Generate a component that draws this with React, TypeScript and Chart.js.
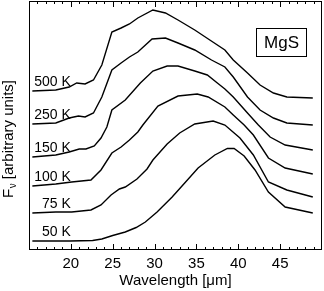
import React, { useEffect, useRef } from "react";
import { Chart, registerables } from "chart.js";

Chart.register(...registerables);

// Wavelength (µm) and flux (arbitrary units)
const wl500 = [15.4, 18.2, 19.8, 20.7, 21.7, 22.7, 23.7, 24.9, 26.0, 27.0, 28.0, 29.8, 31.3, 32.8, 34.8, 36.6, 38.4, 39.4, 41.1, 42.6, 44.2, 45.8, 48.9];
const f500 = [159, 160, 163, 167, 166, 170, 185, 218, 222, 226, 232, 240, 237, 230, 220, 210, 200, 190, 177, 165, 157, 153, 152];

const wl250 = [15.4, 18.2, 19.8, 20.9, 21.7, 22.7, 23.7, 24.9, 26.0, 27.0, 28.0, 29.7, 31.3, 32.8, 34.8, 36.8, 38.4, 39.4, 41.1, 42.6, 44.2, 45.8, 48.9];
const f250 = [126, 127, 132, 134, 133, 137, 153, 180, 187, 193, 198, 211, 212, 207, 200, 190, 183, 173, 153, 140, 132, 127, 125];

const wl150 = [15.4, 18.2, 19.8, 21.0, 21.8, 22.8, 23.6, 24.3, 24.9, 26.5, 28.3, 29.8, 31.5, 32.8, 34.8, 36.3, 37.5, 38.4, 39.4, 41.1, 42.4, 43.8, 45.6, 48.9];
const f150 = [93, 95, 98, 101, 101, 104, 112, 123, 140, 150, 167, 179, 184, 184, 179, 175, 167, 161, 153, 137, 125, 113, 105, 100];

const wl100 = [15.4, 18.2, 20.1, 22.4, 23.6, 24.9, 26.0, 27.0, 28.0, 28.6, 30.4, 32.8, 35.1, 36.4, 38.4, 39.4, 40.7, 41.8, 43.6, 45.6, 48.9];
const f100 = [64, 66, 68, 70, 80, 97, 103, 110, 118, 125, 144, 154, 156, 153, 143, 135, 125, 115, 92, 82, 76];

const wl75 = [15.4, 18.2, 20.1, 22.4, 23.6, 24.8, 25.8, 26.5, 27.9, 29.1, 29.8, 31.5, 33.0, 34.8, 37.0, 38.4, 40.2, 41.8, 43.6, 45.8, 48.9];
const f75 = [37, 38, 38, 40, 45, 55, 61, 63, 71, 81, 90, 106, 117, 126, 129, 125, 112, 95, 68, 60, 53];

const wl50 = [15.4, 19.9, 22.6, 23.7, 25.0, 26.5, 27.8, 28.9, 30.3, 32.1, 33.6, 35.2, 37.2, 38.7, 39.5, 40.7, 42.0, 43.6, 45.6, 48.9];
const f50 = [9, 9, 9.5, 11, 14.5, 18, 22.5, 28, 38, 53, 67, 82, 95, 101.5, 101.5, 94, 80, 58, 43, 37];

const seriesLabels = ["500 K", "250 K", "150 K", "100 K", "75 K", "50 K"];
const seriesWl = [wl500, wl250, wl150, wl100, wl75, wl50];
const seriesF = [f500, f250, f150, f100, f75, f50];

const xTickLabels = [20, 25, 30, 35, 40, 45];
const xMin = 15;
const xMax = 50;
const labelAnchorWl = 20;
const panelLabel = "MgS";

const FONT = "'Liberation Sans', Arial, Helvetica, sans-serif";

const decorPlugin = {
  id: "decor",
  afterDraw(chart: any) {
    const { ctx, chartArea: a, scales } = chart;
    const x = scales.x;
    const y = scales.y;
    ctx.save();
    ctx.strokeStyle = "#000";
    ctx.lineWidth = 1;
    // frame
    ctx.strokeRect(a.left + 0.5, a.top + 0.5, a.right - a.left - 1, a.bottom - a.top - 1);
    // inward ticks on bottom and top
    ctx.beginPath();
    for (let v = xMin + 1; v < xMax; v++) {
      const px = Math.round(x.getPixelForValue(v)) + 0.5;
      const len = v % 5 === 0 ? 6 : 3;
      ctx.moveTo(px, a.bottom);
      ctx.lineTo(px, a.bottom - len);
      ctx.moveTo(px, a.top);
      ctx.lineTo(px, a.top + len);
    }
    ctx.stroke();

    // series labels
    ctx.fillStyle = "#000";
    ctx.font = `14px ${FONT}`;
    ctx.textAlign = "right";
    ctx.textBaseline = "alphabetic";
    const lx = x.getPixelForValue(labelAnchorWl);
    seriesLabels.forEach((lab, i) => {
      const py = y.getPixelForValue(seriesF[i][0]);
      ctx.fillText(lab, lx, py - 5);
    });

    // MgS box
    const bw = 50, bh = 28;
    const bx = a.right - 16 - bw;
    const by = a.top + 27;
    ctx.strokeRect(bx + 0.5, by + 0.5, bw, bh);
    ctx.font = `17px ${FONT}`;
    ctx.textAlign = "center";
    ctx.textBaseline = "middle";
    ctx.fillText(panelLabel, bx + bw / 2 + 0.5, by + bh / 2 + 1);

    // Y axis title: F_nu [arbitrary units]
    ctx.translate(13, 198);
    ctx.rotate(-Math.PI / 2);
    ctx.textAlign = "left";
    ctx.textBaseline = "alphabetic";
    ctx.font = `15px ${FONT}`;
    ctx.fillText("F", 0, 0);
    let w = ctx.measureText("F").width;
    ctx.font = `10px ${FONT}`;
    ctx.fillText("ν", w + 0.5, 3);
    w += ctx.measureText("ν").width + 0.5;
    ctx.font = `15px ${FONT}`;
    ctx.fillText(" [arbitrary units]", w, 0);
    ctx.restore();
  },
};

export default function App() {
  const ref = useRef<HTMLCanvasElement | null>(null);
  useEffect(() => {
    document.body.style.margin = "0";
    const canvas = ref.current!;
    const datasets = seriesLabels.map((lab, i) => ({
      label: lab,
      data: seriesWl[i].map((wv, j) => ({ x: wv, y: seriesF[i][j] })),
      borderColor: "#000",
      borderWidth: 1.4,
      pointRadius: 0,
      fill: false,
      tension: 0,
    }));
    const chart = new Chart(canvas, {
      type: "line",
      data: { datasets },
      options: {
        animation: false,
        responsive: false,
        devicePixelRatio: 1,
        layout: { padding: { left: 29, right: 2, top: 1, bottom: 0 } },
        plugins: { legend: { display: false }, tooltip: { enabled: false } },
        scales: {
          x: {
            type: "linear",
            min: xMin,
            max: xMax,
            grid: { display: false, drawTicks: false },
            border: { display: false },
            afterBuildTicks: (scale: any) => {
              scale.ticks = xTickLabels.map((v) => ({ value: v }));
            },
            afterFit: (scale: any) => {
              scale.height = 41;
            },
            ticks: {
              color: "#000",
              font: { size: 15, family: FONT },
              padding: 5,
              maxRotation: 0,
              autoSkip: false,
            },
            title: {
              display: true,
              text: "Wavelength [μm]",
              color: "#000",
              font: { size: 15, family: FONT },
              padding: { top: 0, bottom: 1 },
            },
          },
          y: {
            type: "linear",
            display: false,
            min: 0,
            max: 249,
          },
        },
      },
      plugins: [decorPlugin],
    });
    return () => chart.destroy();
  }, []);
  return (
    <div style={{ width: 324, height: 291 }}>
      <canvas ref={ref} width={324} height={291} style={{ display: "block" }} />
    </div>
  );
}
